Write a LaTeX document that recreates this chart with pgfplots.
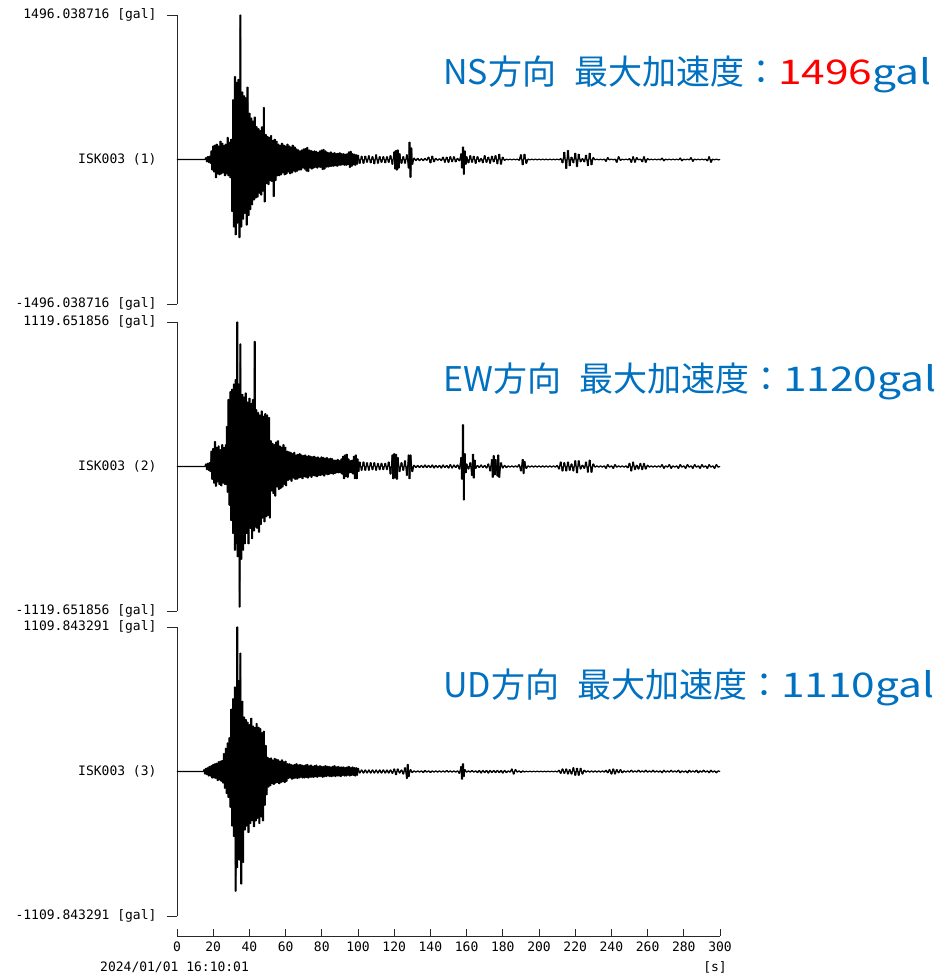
\documentclass[border=0pt]{standalone}
\usepackage{pgfplots}
\usepackage{pgfplotstable}
\usepackage{graphicx}
\usepackage{fontspec}
\pgfplotsset{compat=1.18}
\newfontfamily\monofont{DejaVu Sans Mono}
\newfontfamily\cjkfont{Noto Sans CJK JP}
\definecolor{titleblue}{RGB}{0,112,192}
\definecolor{axisgray}{RGB}{40,40,40}
\newcommand{\labfont}{\monofont\fontsize{13}{13}\selectfont}
\newcommand{\titfont}{\cjkfont\fontsize{34}{34}\selectfont}

\pgfplotstableread[row sep=\\]{
t a\\
0 0\\ 15.5 0\\
16 20\\ 16.5 -25\\ 17 30\\ 17.5 -30\\ 18 35\\ 18.5 -40\\
19 90\\ 19.5 -110\\ 20 140\\ 20.5 -130\\ 21 150\\ 21.5 -190\\ 22 160\\ 22.5 -150\\ 23 140\\ 23.5 -160\\ 24 190\\ 24.5 -150\\ 25 170\\ 25.5 -140\\ 26 150\\ 26.5 -170\\ 27 160\\ 27.5 -150\\ 28 230\\ 28.5 -170\\ 29 180\\ 29.5 -190\\ 30 210\\
30.5 -540\\ 31 620\\ 31.5 -700\\ 32 860\\ 32.5 -780\\ 33 800\\ 33.5 -660\\ 34 830\\ 34.5 -810\\ 35 1496\\ 35.5 -700\\ 36 700\\ 36.5 -620\\ 37 660\\ 37.5 -560\\ 38 640\\ 38.5 -680\\ 39 750\\ 39.5 -580\\
40 480\\ 40.5 -520\\ 41 430\\ 41.5 -470\\ 42 400\\ 42.5 -420\\ 43 440\\ 43.5 -400\\ 44 340\\ 44.5 -390\\ 45 320\\ 45.5 -350\\ 46 300\\ 46.5 -370\\ 47 340\\ 47.5 -330\\ 48 540\\ 48.5 -440\\ 49 260\\ 49.5 -250\\
50 240\\ 50.5 -260\\ 51 230\\ 51.5 -220\\ 52 250\\ 52.5 -230\\ 53 200\\ 53.5 -385\\ 54 210\\ 54.5 -220\\ 55 190\\ 55.5 -170\\ 56 160\\ 56.5 -170\\ 57 150\\ 57.5 -160\\ 58 170\\ 58.5 -140\\ 59 150\\ 59.5 -160\\
60 140\\ 60.5 -150\\ 61 160\\ 61.5 -130\\ 62 140\\ 62.5 -150\\ 63 130\\ 63.5 -140\\ 64 150\\ 64.5 -120\\ 65 130\\ 65.5 -130\\ 66 110\\ 66.5 -120\\ 67 100\\ 67.5 -110\\ 68 90\\ 68.5 -110\\ 69 100\\ 69.5 -90\\
70 110\\ 70.5 -100\\ 71 115\\ 71.5 -120\\ 72 125\\ 72.5 -125\\ 73 100\\ 73.5 -90\\ 74 95\\ 74.5 -100\\ 75 85\\ 75.5 -90\\ 76 90\\ 76.5 -80\\ 77 85\\ 77.5 -90\\ 78 75\\ 78.5 -80\\ 79 90\\ 79.5 -85\\
80 100\\ 80.5 -105\\ 81 105\\ 81.5 -100\\ 82 90\\ 82.5 -80\\ 83 75\\ 83.5 -80\\ 84 70\\ 84.5 -75\\ 85 80\\ 85.5 -70\\ 86 65\\ 86.5 -70\\ 87 70\\ 87.5 -65\\ 88 60\\ 88.5 -70\\ 89 65\\ 89.5 -60\\
90 70\\ 90.5 -60\\ 91 60\\ 91.5 -55\\ 92 60\\ 92.5 -60\\ 93 55\\ 93.5 -60\\ 94 60\\ 94.5 -55\\ 95 80\\ 95.5 -85\\ 96 85\\ 96.5 -70\\ 97 60\\ 97.5 -55\\ 98 55\\ 98.5 -60\\ 99 50\\ 99.5 -50\\ 100 45\\
101 -40\\ 102 35\\ 103 -40\\ 104 35\\ 105 -30\\ 106 40\\ 107 -35\\ 108 30\\ 109 -45\\ 110 50\\ 111 -40\\ 112 30\\ 113 -30\\ 114 30\\ 115 -35\\ 116 30\\ 117 -30\\ 118 40\\ 119 -50\\
120 80\\ 120.5 -100\\ 121 95\\ 121.5 -110\\ 122 100\\ 122.5 -90\\ 123 60\\ 124 -40\\ 125 30\\ 126 -40\\ 127 50\\ 128 -90\\ 128.5 180\\ 129 -185\\ 129.5 120\\ 130 -50\\
131 15\\ 132 -12\\ 133 12\\ 134 -12\\ 135 8\\ 136 -12\\ 137 12\\ 138 -8\\ 139 25\\ 140 -35\\ 141 35\\ 142 -25\\ 143 12\\ 144 -8\\ 145 8\\ 146 -12\\ 147 25\\ 148 -30\\ 149 25\\ 150 -30\\
151 30\\ 152 -25\\ 153 30\\ 154 -25\\ 155 12\\ 156 -15\\ 157 60\\ 157.5 -90\\ 158 130\\ 158.5 -155\\ 159 90\\ 159.5 -50\\ 160 30\\
161 -35\\ 162 40\\ 163 -30\\ 164 35\\ 165 -40\\ 166 30\\ 167 -25\\ 168 12\\ 169 -35\\ 170 40\\ 171 -30\\ 172 25\\ 173 -40\\ 174 35\\ 175 -25\\ 176 40\\ 177 -45\\ 178 55\\ 179 -50\\ 180 25\\
181 -10\\ 182 5\\ 183 -5\\ 184 5\\ 185 -5\\ 186 5\\ 187 -5\\ 188 5\\ 189 -8\\ 190 50\\ 191 -55\\ 192 55\\ 193 -40\\ 194 5\\ 195 -5\\ 196 5\\ 197 -5\\ 198 5\\ 199 -5\\ 200 5\\
201 -5\\ 202 5\\ 203 -5\\ 204 5\\ 205 -5\\ 206 5\\ 207 -5\\ 208 5\\ 209 -5\\ 210 5\\ 211 -5\\ 212 10\\ 213 -35\\ 214 75\\ 215 -95\\ 216 95\\ 217 -65\\ 218 25\\ 219 -35\\ 220 65\\
221 -75\\ 222 55\\ 223 -25\\ 224 10\\ 225 -25\\ 226 45\\ 227 -65\\ 228 65\\ 229 -55\\ 230 20\\ 231 -5\\ 232 5\\ 233 -5\\ 234 5\\ 235 -5\\ 236 5\\ 237 -20\\ 238 20\\ 239 -5\\ 240 5\\
241 -5\\ 242 5\\ 243 -30\\ 244 30\\ 245 -10\\ 246 5\\ 247 -5\\ 248 5\\ 249 -5\\ 250 10\\ 251 -30\\ 252 30\\ 253 -30\\ 254 20\\ 255 -5\\ 256 5\\ 257 -25\\ 258 30\\ 259 -30\\ 260 10\\
261 -5\\ 262 5\\ 263 -5\\ 264 5\\ 265 -5\\ 266 5\\ 267 -5\\ 268 15\\ 269 -15\\ 270 5\\ 271 -5\\ 272 5\\ 273 -5\\ 274 5\\ 275 -5\\ 276 5\\ 277 -5\\ 278 15\\ 279 -15\\ 280 5\\
281 -5\\ 282 5\\ 283 -5\\ 284 20\\ 285 -20\\ 286 5\\ 287 -5\\ 288 5\\ 289 -5\\ 290 5\\ 291 -5\\ 292 5\\ 293 -15\\ 294 30\\ 295 -30\\ 296 5\\ 297 -5\\ 298 5\\ 299 -5\\ 300 0\\
}\ns

\pgfplotstableread[row sep=\\]{
t a\\
0 0\\ 15.5 0\\
16 20\\ 16.5 -25\\ 17 25\\ 17.5 -30\\ 18 30\\ 18.5 -40\\
19 120\\ 19.5 -100\\ 20 140\\ 20.5 -130\\ 21 195\\ 21.5 -155\\ 22 150\\ 22.5 -120\\ 23 160\\ 23.5 -140\\ 24 130\\ 24.5 -150\\ 25 170\\ 25.5 -130\\ 26 150\\ 26.5 -140\\ 27 170\\ 27.3 -140\\ 27.6 310\\ 28 -200\\
28.5 520\\ 29 -300\\ 29.5 580\\ 30 -420\\ 30.5 600\\ 31 -520\\ 31.5 640\\ 32 -650\\ 32.5 675\\ 33 -600\\ 33.3 1119.65\\ 33.6 -700\\ 34 640\\ 34.6 -1090\\ 35 950\\ 35.5 -720\\ 36 560\\ 36.5 -650\\ 37 540\\ 37.5 -600\\ 38 570\\ 38.5 -520\\ 39 500\\ 39.5 -600\\
40 530\\ 40.5 -480\\ 41 490\\ 41.5 -560\\ 42 520\\ 42.5 -500\\ 42.9 970\\ 43.3 -470\\ 43.8 440\\ 44.3 -480\\ 44.8 420\\ 45.3 -510\\ 45.8 400\\ 46.3 -450\\ 46.8 430\\ 47.3 -400\\ 47.8 390\\ 48.3 -430\\ 48.8 410\\ 49.3 -390\\ 49.8 400\\
50.3 -380\\ 50.8 380\\ 51.3 -400\\ 51.8 200\\ 52.3 -190\\ 52.8 180\\ 53.3 -210\\ 53.8 170\\ 54.3 -230\\ 54.8 190\\ 55.3 -160\\ 55.8 200\\ 56.3 -180\\ 56.8 160\\ 57.3 -170\\ 57.8 150\\ 58.3 -160\\ 58.8 170\\ 59.3 -140\\ 59.8 150\\
60.3 -150\\ 60.8 120\\ 61.3 -110\\ 61.8 115\\ 62.3 -100\\ 62.8 110\\ 63.3 -115\\ 63.8 100\\ 64.3 -90\\ 64.8 110\\ 65.3 -100\\ 65.8 90\\ 66.3 -100\\ 66.8 95\\ 67.3 -90\\ 67.8 100\\ 68.3 -85\\ 68.8 90\\ 69.3 -95\\ 69.8 85\\
70.3 -80\\ 70.8 90\\ 71.3 -85\\ 71.8 80\\ 72.3 -90\\ 72.8 85\\ 73.3 -75\\ 73.8 80\\ 74.3 -85\\ 74.8 75\\ 75.3 -70\\ 75.8 80\\ 76.3 -75\\ 76.8 70\\ 77.3 -80\\ 77.8 75\\ 78.3 -70\\ 78.8 65\\ 79.3 -70\\ 79.8 75\\
80.3 -65\\ 80.8 70\\ 81.3 -75\\ 81.8 65\\ 82.3 -60\\ 82.8 70\\ 83.3 -65\\ 83.8 60\\ 84.3 -60\\ 84.8 65\\ 85.3 -55\\ 85.8 60\\ 86.3 -60\\ 86.8 50\\ 87.3 -55\\ 87.8 50\\ 88.3 -50\\ 88.8 55\\ 89.3 -50\\ 89.8 45\\
90.3 -50\\ 90.8 60\\ 91.3 -60\\ 91.8 80\\ 92.3 -95\\ 92.8 90\\ 93.3 -80\\ 93.8 95\\ 94.3 -85\\ 94.8 60\\ 95.3 -50\\ 95.8 45\\ 96.3 -50\\ 96.8 50\\ 97.3 -60\\ 97.8 80\\ 98.3 -95\\ 98.8 90\\ 99.3 -95\\ 99.8 60\\ 100.3 -40\\
101 35\\ 102 -30\\ 103 35\\ 104 -30\\ 105 30\\ 106 -30\\ 107 30\\ 108 -25\\ 109 30\\ 110 -30\\ 111 25\\ 112 -25\\ 113 25\\ 114 -25\\ 115 25\\ 116 -25\\ 117 35\\ 118 -60\\
119 90\\ 119.5 -95\\ 120 100\\ 120.5 -90\\ 121 95\\ 121.5 -100\\ 122 70\\ 123 -40\\ 124 30\\ 125 -30\\ 126 45\\ 127 -70\\ 128 90\\ 128.5 -95\\ 129 90\\ 130 -40\\
131 10\\ 132 -8\\ 133 8\\ 134 -8\\ 135 8\\ 136 -8\\ 137 12\\ 138 -8\\ 139 8\\ 140 -8\\ 141 12\\ 142 -12\\ 143 8\\ 144 -8\\ 145 8\\ 146 -12\\ 147 12\\ 148 -8\\ 149 8\\ 150 -12\\
151 15\\ 152 -12\\ 153 12\\ 154 -8\\ 155 12\\ 156 -20\\ 157 70\\ 157.5 -100\\ 158 325\\ 158.5 -260\\ 159 100\\ 159.5 -50\\ 160 20\\
161 -20\\ 162 30\\ 163 -70\\ 163.5 95\\ 164 -90\\ 164.5 50\\ 165 -15\\ 166 8\\ 167 -8\\ 168 12\\ 169 -8\\ 170 8\\ 171 -12\\ 172 20\\ 173 -35\\ 174 55\\ 174.5 -85\\ 175 85\\ 175.5 -65\\ 176 55\\ 177 -75\\ 177.5 90\\ 178 -85\\ 179 30\\ 180 -12\\
181 8\\ 182 -8\\ 183 5\\ 184 -5\\ 185 5\\ 186 -5\\ 187 5\\ 188 -5\\ 189 15\\ 190 -35\\ 191 55\\ 191.5 -55\\ 192 40\\ 193 -15\\ 194 5\\ 195 -5\\ 196 5\\ 197 -5\\ 198 5\\ 199 -5\\ 200 5\\
201 -5\\ 202 5\\ 203 -5\\ 204 5\\ 205 -5\\ 206 5\\ 207 -5\\ 208 5\\ 209 -5\\ 210 8\\ 211 -20\\ 212 35\\ 213 -35\\ 214 30\\ 215 -35\\ 216 35\\ 217 -30\\ 218 20\\ 219 -35\\ 220 45\\
221 -50\\ 222 45\\ 223 -20\\ 224 10\\ 225 -15\\ 226 35\\ 227 -45\\ 228 50\\ 229 -45\\ 230 20\\ 231 -5\\ 232 5\\ 233 -5\\ 234 5\\ 235 -5\\ 236 5\\ 237 -15\\ 238 15\\ 239 -5\\ 240 5\\
241 -15\\ 242 15\\ 243 -5\\ 244 5\\ 245 -5\\ 246 5\\ 247 -5\\ 248 5\\ 249 -10\\ 250 25\\ 251 -35\\ 252 35\\ 253 -25\\ 254 10\\ 255 -20\\ 256 25\\ 257 -25\\ 258 25\\ 259 -20\\ 260 10\\
261 -5\\ 262 5\\ 263 -5\\ 264 5\\ 265 -5\\ 266 5\\ 267 -5\\ 268 15\\ 269 -15\\ 270 5\\ 271 -5\\ 272 15\\ 273 -15\\ 274 5\\ 275 -5\\ 276 5\\ 277 -15\\ 278 15\\ 279 -5\\ 280 5\\
281 -15\\ 282 15\\ 283 -5\\ 284 5\\ 285 -15\\ 286 15\\ 287 -5\\ 288 5\\ 289 -15\\ 290 15\\ 291 -5\\ 292 5\\ 293 -15\\ 294 15\\ 295 -5\\ 296 5\\ 297 -15\\ 298 15\\ 299 -5\\ 300 0\\
}\ew

\pgfplotstableread[row sep=\\]{
t a\\
0 0\\ 14.5 0\\
15 15\\ 15.5 -20\\ 16 25\\ 16.5 -25\\ 17 30\\ 17.5 -35\\ 18 40\\ 18.5 -35\\ 19 45\\ 19.5 -50\\ 20 55\\ 20.5 -50\\ 21 60\\ 21.5 -55\\ 22 65\\ 22.5 -70\\ 23 75\\ 23.5 -65\\ 24 80\\ 24.5 -75\\ 25 85\\ 25.5 -90\\
26 140\\ 26.5 -130\\ 27 180\\ 27.5 -170\\ 28 220\\ 28.5 -200\\ 29 260\\ 29.5 -275\\
30 480\\ 30.5 -420\\ 31 560\\ 31.5 -500\\ 32 650\\ 32.4 -920\\ 32.8 620\\ 33.1 -740\\ 33.3 1109.84\\ 33.6 -600\\ 34 700\\ 34.5 -680\\ 35 910\\ 35.5 -865\\ 36 540\\ 36.5 -700\\ 37 420\\ 37.5 -450\\ 38 400\\ 38.5 -420\\ 39 380\\ 39.5 -470\\
40 360\\ 40.5 -400\\ 41 410\\ 41.5 -380\\ 42 350\\ 42.5 -425\\ 43 340\\ 43.5 -380\\ 44 370\\ 44.5 -360\\ 45 340\\ 45.5 -400\\ 46 330\\ 46.5 -350\\ 47 300\\ 47.5 -380\\ 48 310\\ 48.5 -260\\ 49 200\\ 49.5 -180\\
50 110\\ 50.5 -120\\ 51 100\\ 51.5 -110\\ 52 105\\ 52.5 -95\\ 53 90\\ 53.5 -100\\ 54 100\\ 54.5 -90\\ 55 95\\ 55.5 -85\\ 56 90\\ 56.5 -95\\ 57 80\\ 57.5 -85\\ 58 90\\ 58.5 -80\\ 59 75\\ 59.5 -85\\
60 80\\ 60.5 -75\\ 61 60\\ 61.5 -55\\ 62 60\\ 62.5 -50\\ 63 55\\ 63.5 -60\\ 64 50\\ 64.5 -55\\ 65 55\\ 65.5 -50\\ 66 60\\ 66.5 -55\\ 67 50\\ 67.5 -50\\ 68 55\\ 68.5 -45\\ 69 50\\ 69.5 -50\\
70 45\\ 70.5 -50\\ 71 50\\ 71.5 -45\\ 72 55\\ 72.5 -50\\ 73 45\\ 73.5 -45\\ 74 50\\ 74.5 -45\\ 75 40\\ 75.5 -45\\ 76 45\\ 76.5 -40\\ 77 50\\ 77.5 -45\\ 78 40\\ 78.5 -40\\ 79 45\\ 79.5 -40\\
80 40\\ 80.5 -45\\ 81 40\\ 81.5 -40\\ 82 45\\ 82.5 -40\\ 83 40\\ 83.5 -35\\ 84 40\\ 84.5 -40\\ 85 35\\ 85.5 -40\\ 86 40\\ 86.5 -35\\ 87 45\\ 87.5 -40\\ 88 35\\ 88.5 -35\\ 89 40\\ 89.5 -35\\
90 35\\ 90.5 -40\\ 91 35\\ 91.5 -30\\ 92 35\\ 92.5 -35\\ 93 30\\ 93.5 -35\\ 94 35\\ 94.5 -30\\ 95 40\\ 95.5 -35\\ 96 30\\ 96.5 -30\\ 97 35\\ 97.5 -30\\ 98 30\\ 98.5 -35\\ 99 30\\ 99.5 -30\\ 100 25\\
101 -12\\ 102 12\\ 103 -12\\ 104 12\\ 105 -12\\ 106 12\\ 107 -12\\ 108 12\\ 109 -12\\ 110 12\\ 111 -12\\ 112 12\\ 113 -12\\ 114 12\\ 115 -12\\ 116 12\\ 117 -12\\ 118 12\\ 119 -15\\ 120 20\\
121 -25\\ 122 20\\ 123 -12\\ 124 12\\ 125 -20\\ 126 30\\ 127 -55\\ 127.5 55\\ 128 -40\\ 129 15\\ 130 -8\\
131 5\\ 132 -5\\ 133 5\\ 134 -5\\ 135 5\\ 136 -8\\ 137 8\\ 138 -5\\ 139 5\\ 140 -8\\ 141 5\\ 142 -5\\ 143 5\\ 144 -5\\ 145 5\\ 146 -5\\ 147 5\\ 148 -5\\ 149 8\\ 150 -5\\
151 5\\ 152 -5\\ 153 5\\ 154 -5\\ 155 5\\ 156 -15\\ 157 40\\ 157.5 -60\\ 158 60\\ 158.5 -40\\ 159 15\\ 160 -5\\
161 5\\ 162 -5\\ 163 8\\ 164 -5\\ 165 5\\ 166 -8\\ 167 8\\ 168 -12\\ 169 8\\ 170 -8\\ 171 8\\ 172 -12\\ 173 8\\ 174 -8\\ 175 8\\ 176 -8\\ 177 8\\ 178 -8\\ 179 8\\ 180 -12\\
181 8\\ 182 -8\\ 183 5\\ 184 -5\\ 185 20\\ 186 -20\\ 187 15\\ 188 -5\\ 189 5\\ 190 -8\\ 191 5\\ 192 -4\\ 193 3\\ 194 -3\\ 195 3\\ 196 -3\\ 197 3\\ 198 -3\\ 199 3\\ 200 -3\\
201 3\\ 202 -3\\ 203 3\\ 204 -3\\ 205 3\\ 206 -3\\ 207 3\\ 208 -3\\ 209 3\\ 210 -4\\ 211 10\\ 212 -15\\ 213 20\\ 214 -15\\ 215 20\\ 216 -20\\ 217 15\\ 218 -20\\ 219 30\\ 220 -30\\
221 25\\ 222 -30\\ 223 25\\ 224 -20\\ 225 10\\ 226 -5\\ 227 5\\ 228 -5\\ 229 5\\ 230 -5\\ 231 5\\ 232 -5\\ 233 5\\ 234 -5\\ 235 5\\ 236 -5\\ 237 10\\ 238 -10\\ 239 15\\ 240 -20\\
241 20\\ 242 -20\\ 243 15\\ 244 -10\\ 245 15\\ 246 -10\\ 247 5\\ 248 -5\\ 249 5\\ 250 -5\\ 251 10\\ 252 -5\\ 253 5\\ 254 -5\\ 255 10\\ 256 -5\\ 257 5\\ 258 -5\\ 259 10\\ 260 -5\\
261 5\\ 262 -5\\ 263 10\\ 264 -5\\ 265 5\\ 266 -5\\ 267 5\\ 268 -10\\ 269 10\\ 270 -5\\ 271 5\\ 272 -5\\ 273 10\\ 274 -5\\ 275 5\\ 276 -5\\ 277 10\\ 278 -10\\ 279 5\\ 280 -5\\
281 5\\ 282 -10\\ 283 10\\ 284 -5\\ 285 5\\ 286 -5\\ 287 10\\ 288 -10\\ 289 5\\ 290 -5\\ 291 10\\ 292 -5\\ 293 5\\ 294 -10\\ 295 10\\ 296 -5\\ 297 5\\ 298 -10\\ 299 5\\ 300 0\\
}\ud

\pgfplotsset{
  panel/.style={
    scale only axis, width=543pt, height=289pt, anchor=south west,
    xmin=0, xmax=300, clip=false,
    axis x line=none, axis y line*=left,
    axis line style={line width=0.9pt, axisgray},
    tick align=outside, major tick length=10pt,
    major tick style={line width=0.9pt, axisgray},
    yticklabel style={font=\labfont, anchor=east, xshift=-7pt},
    extra y ticks={0},
    extra y tick style={major tick style={draw=none}},
  },
  trace/.style={black, line width=1.1pt, line join=round, mark=none},
  fillbars/.style={ybar, bar width=2.2pt, fill=black, draw=none, mark=none},
}

\begin{document}
\begin{tikzpicture}
\useasboundingbox (0,0) rectangle (944pt,974pt);

\begin{axis}[panel, at={(177pt,670pt)},
  ymin=-1496.038716, ymax=1496.038716,
  ytick={-1496.038716,1496.038716},
  yticklabels={{-1496.038716 [gal]},{1496.038716 [gal]}},
  extra y tick labels={ISK003 (1)}]
\addplot[fillbars] table[x=t,y=a] {\ns};
\addplot[trace] table[x=t,y=a] {\ns};
\end{axis}

\begin{axis}[panel, at={(177pt,363pt)},
  ymin=-1119.651856, ymax=1119.651856,
  ytick={-1119.651856,1119.651856},
  yticklabels={{-1119.651856 [gal]},{1119.651856 [gal]}},
  extra y tick labels={ISK003 (2)}]
\addplot[fillbars] table[x=t,y=a] {\ew};
\addplot[trace] table[x=t,y=a] {\ew};
\end{axis}

\begin{axis}[panel, at={(177pt,58pt)},
  ymin=-1109.843291, ymax=1109.843291,
  ytick={-1109.843291,1109.843291},
  yticklabels={{-1109.843291 [gal]},{1109.843291 [gal]}},
  extra y tick labels={ISK003 (3)}]
\addplot[fillbars] table[x=t,y=a] {\ud};
\addplot[trace] table[x=t,y=a] {\ud};
\end{axis}

\begin{axis}[at={(177pt,38pt)}, anchor=south west, scale only axis,
  width=543pt, height=5pt, xmin=0, xmax=300, ymin=0, ymax=1,
  axis x line*=bottom, axis y line=none,
  axis line style={line width=0.9pt, axisgray},
  xtick={0,20,...,300}, tick align=inside, major tick length=7pt,
  major tick style={line width=0.9pt, axisgray},
  xticklabel style={font=\labfont, yshift=-2pt},
  /pgf/number format/assume math mode=true]
\addplot[draw=none] coordinates {(0,0)};
\end{axis}

\node[anchor=mid west, font=\labfont, inner sep=0pt] at (100pt,5pt) {2024/01/01 16:10:01};
\node[anchor=mid, font=\labfont, inner sep=0pt] at (715pt,5pt) {[s]};

\node[anchor=base west, inner sep=0pt, text=titleblue, font=\titfont] at (443pt,889pt)
  {NS方向\hspace{18pt}最大加速度：\textcolor{red}{\scalebox{1.25}[1]{1496}}\scalebox{1.25}[1]{gal}};
\node[anchor=base west, inner sep=0pt, text=titleblue, font=\titfont] at (443pt,582pt)
  {EW方向\hspace{18pt}最大加速度：\scalebox{1.25}[1]{1120gal}};
\node[anchor=base west, inner sep=0pt, text=titleblue, font=\titfont] at (443pt,276pt)
  {UD方向\hspace{18pt}最大加速度：\scalebox{1.25}[1]{1110gal}};
\end{tikzpicture}
\end{document}
